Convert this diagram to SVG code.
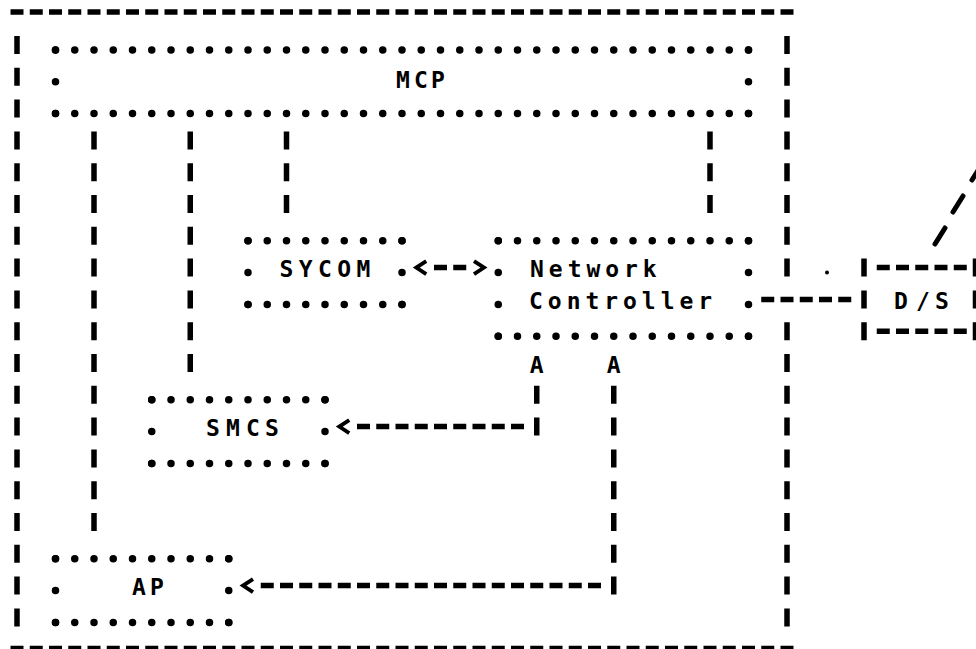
<svg xmlns="http://www.w3.org/2000/svg" width="976" height="649" viewBox="0 0 976 649">
<defs>
<style>
.dh{fill:none;stroke:#000;stroke-width:7.5;stroke-linecap:round;stroke-dasharray:0 19.25}
.dv{fill:none;stroke:#000;stroke-width:7.5;stroke-linecap:round;stroke-dasharray:0 31.8}
.bar{fill:none;stroke:#000;stroke-width:5.5;stroke-dasharray:18 13.8}
.dash{fill:none;stroke:#000;stroke-width:5.5;stroke-dasharray:13 6.25}
.sl{fill:none;stroke:#000;stroke-width:5;stroke-linecap:round}
.t{font-family:"DejaVu Sans Mono","Liberation Mono",monospace;font-weight:bold;font-size:23px;fill:#000;text-anchor:middle}
</style>
<marker id="chev" markerUnits="userSpaceOnUse" orient="auto-start-reverse" refX="-12.75" refY="0" markerWidth="30" markerHeight="30" style="overflow:visible">
<path d="M-5,-6.5 L5,0 L-5,6.5" fill="none" stroke="#000" stroke-width="3.8"/>
</marker>
</defs>
<rect width="976" height="649" fill="#fff"/>

<g id="host">
<path class="dash" d="M10.5,12 H799.75 M10.5,648.5 H799.75"/>
<path class="bar" d="M17,36 V640.2 M787,36 V290.4 M787,322.2 V640.2"/>
<circle cx="827" cy="272.6" r="2"/>
</g>

<g id="mcp">
<path class="dh" d="M55.5,50 H748.6 M55.5,113.6 H748.6"/>
<path class="dv" d="M55.5,50 V113.7 M748.5,50 V113.7"/>
<text class="t" x="403 421 438" y="88">MCP</text>
</g>

<g id="sycom">
<path class="dh" d="M248,240.8 H402.1 M248,304.4 H402.1"/>
<path class="dv" d="M248,240.8 V304.5 M402,240.8 V304.5"/>
<text class="t" x="286.5 305.75 325 344.25 363.5" y="277">SYCOM</text>
</g>

<g id="network-controller">
<path class="dh" d="M498.25,240.8 H748.6 M498.25,336.2 H748.6"/>
<path class="dv" d="M498.25,240.8 V336.3 M748.5,240.8 V336.3"/>
<text class="t" x="537 555.8 574.6 593.4 612.2 631 649.8" y="277">Network</text>
<text class="t" x="536 554.8 573.6 592.4 611.2 630 648.8 667.6 686.4 705.2" y="309">Controller</text>
</g>

<g id="smcs">
<path class="dh" d="M151.75,399.8 H325.1 M151.75,463.4 H325.1"/>
<path class="dv" d="M151.75,399.8 V463.5 M325,399.8 V463.5"/>
<text class="t" x="213 233 253 272" y="436">SMCS</text>
</g>

<g id="ap">
<path class="dh" d="M55.5,558.8 H228.85 M55.5,622.4 H228.85"/>
<path class="dv" d="M55.5,558.8 V622.5 M228.75,558.8 V622.5"/>
<text class="t" x="139 157" y="595">AP</text>
</g>

<g id="ds">
<path class="bar" d="M864,258.6 V354 M975.5,258.6 V354"/>
<path class="dash" d="M876.75,267.6 H973 M876.75,331.2 H973"/>
<text class="t" x="901 923 942" y="309">D/S</text>
</g>

<g id="connectors">
<path class="bar" d="M94,131.4 V544.8 M190.25,131.4 V385.8 M286.5,131.4 V226.8 M710,131.4 V226.8"/>
<path class="dash" d="M434,267.6 H466.25" marker-start="url(#chev)" marker-end="url(#chev)"/>
<text class="t" x="536.75" y="372.5">A</text>
<path class="bar" d="M536.75,385.8 V449.4"/>
<path class="dash" d="M357,426.6 H524" marker-start="url(#chev)"/>
<text class="t" x="613.75" y="372.5">A</text>
<path class="bar" d="M613.75,385.8 V608.4"/>
<path class="dash" d="M260.75,585.6 H601" marker-start="url(#chev)"/>
<path class="dash" d="M761.25,299.4 H851.25"/>
<path class="sl" d="M972,180 L982,164 M953,212 L963,196 M935,244 L945,228"/>
</g>
</svg>
